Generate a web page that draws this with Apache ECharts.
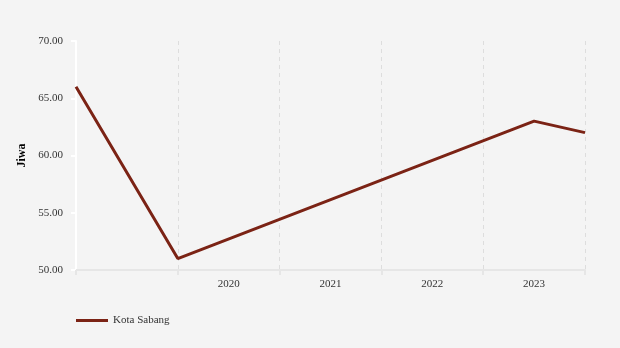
<!DOCTYPE html>
<html><head><meta charset="utf-8">
<script src="https://cdn.jsdelivr.net/npm/echarts@6/dist/echarts.min.js"></script>
<style>html,body{margin:0;padding:0;background:#f4f4f4}#c{width:620px;height:348px}</style>
</head><body><div id="c"></div>
<script>
var seriesName = 'Kota Sabang';
var xYears = [2019, 2020, 2023.5, 2024];
var values = [66, 51, 63, 62];
var yearLabels = ['2020', '2021', '2022', '2023'];
var yTicks = [50, 55, 60, 65, 70];

var chart = echarts.init(document.getElementById('c'));
var font = 'Liberation Serif';
chart.setOption({
  backgroundColor: '#f4f4f4',
  animation: false,
  grid: { left: 76, right: 35, top: 41, bottom: 78 },
  legend: {
    left: 71, top: 310,
    icon: 'rect', itemWidth: 32, itemHeight: 3, itemGap: 10,
    textStyle: { fontFamily: font, fontSize: 11, color: '#333' },
    data: [seriesName]
  },
  xAxis: [{
    type: 'value', min: 2019, max: 2024, interval: 1,
    axisLine: { show: true, lineStyle: { color: '#e6e6e6', width: 2 } },
    axisTick: { show: true, length: 5, lineStyle: { color: '#e6e6e6', width: 2 } },
    axisLabel: { show: false },
    splitLine: { show: true, lineStyle: { color: '#dddddd', type: [4, 4], width: 1 } }
  }, {
    type: 'value', min: 2019, max: 2024, interval: 0.5, position: 'bottom',
    axisLine: { show: false }, axisTick: { show: false }, splitLine: { show: false },
    axisLabel: {
      margin: 9, fontFamily: font, fontSize: 11, color: '#333',
      formatter: function (v) {
        var s = String(Math.floor(v));
        return (Math.abs(v % 1 - 0.5) < 1e-6 && yearLabels.indexOf(s) >= 0) ? s : '';
      }
    }
  }],
  yAxis: {
    type: 'value', min: yTicks[0], max: yTicks[yTicks.length - 1], interval: 5,
    name: 'Jiwa', nameLocation: 'middle', nameGap: 48, nameRotate: 90,
    nameMoveOverlap: false,
    nameTextStyle: { fontFamily: font, fontSize: 12, fontWeight: 'bold', color: '#000' },
    axisLine: { show: true, lineStyle: { color: '#ffffff', width: 2 } },
    axisTick: { show: true, length: 5, lineStyle: { color: '#ffffff', width: 2 } },
    axisLabel: { margin: 13, fontFamily: font, fontSize: 11, color: '#333', padding: [2, 0, 0, 0],
      formatter: function (v) { return v.toFixed(2); } },
    splitLine: { show: false }
  },
  series: [{
    name: seriesName, type: 'line', xAxisIndex: 0,
    data: xYears.map(function (x, i) { return [x, values[i]]; }),
    showSymbol: false, symbol: 'none',
    lineStyle: { color: '#7b2315', width: 3 },
    itemStyle: { color: '#7b2315' }
  }]
});
</script></body></html>
